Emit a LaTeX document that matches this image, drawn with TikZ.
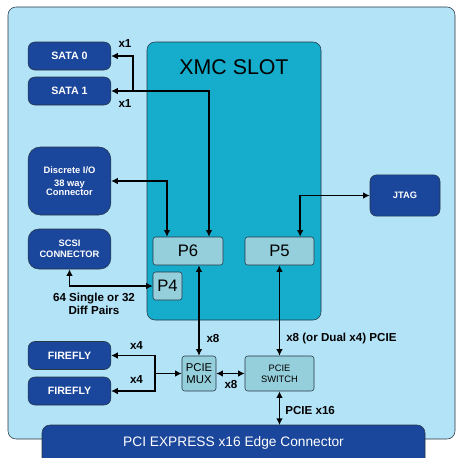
\documentclass[tikz,border=0pt]{standalone}
\usepackage{fontspec}
\setmainfont{Liberation Sans}
\usetikzlibrary{arrows.meta}
\usetikzlibrary{positioning}
\definecolor{bgblue}{RGB}{179,227,247}
\definecolor{dblue}{RGB}{26,70,155}
\definecolor{slotteal}{RGB}{22,172,203}
\definecolor{pinfill}{RGB}{148,207,219}
\definecolor{edge}{RGB}{40,55,70}
\tikzset{port/.style = {draw=edge, fill=dblue, text=white, rounded corners=5pt,
                        minimum width=62pt, minimum height=21pt, inner sep=1pt,
                        align=center, font=\bfseries\fontsize{8}{9}\selectfont},
         pin/.style = {draw=edge, fill=pinfill, rounded corners=2pt, inner sep=1pt,
                       align=center, minimum height=21pt},
         lbl/.style = {font=\bfseries\fontsize{8.7}{10}\selectfont, inner sep=0pt},
         link/.style = {line width=1.2pt, {Latex[length=5pt,width=5pt]}-{Latex[length=5pt,width=5pt]}},
         tolink/.style = {line width=1.2pt, -{Latex[length=5pt,width=5pt]}}}

\begin{document}
\begin{tikzpicture}[x=0.75pt, y=-0.75pt]
      \useasboundingbox (0, 0) rectangle (456, 458);
      \clip (0, 0) rectangle (456, 458);
      \fill [white] (0, 0) rectangle (456, 458);

      % board and slot
      \draw [edge, fill=bgblue, rounded corners=6pt] (8, 7) rectangle (455, 439);
      \draw [edge, fill=slotteal, rounded corners=6pt] (147, 42) rectangle (321, 320);
      \node [font=\fontsize{16}{19}\selectfont] (xmc) at (234, 67) {XMC SLOT};
      \draw [edge, fill=dblue, rounded corners=6pt] (42, 425) rectangle (425, 480);
      \node [text=white, font=\fontsize{10.3}{12}\selectfont] (pci) at (233.5, 443)
            {PCI EXPRESS x16 Edge Connector};
      \coordinate (pcitop) at (233.5, 425);

      % connectors on the left
      \node [port] (sata0) at (69.5, 56) {SATA 0};
      \node [port] (sata1) at (69.5, 91) {SATA 1};
      \node [port, minimum height=51pt, rounded corners=9pt,
             font=\bfseries\fontsize{7}{10}\selectfont] (disc) at (69.5, 181)
            {Discrete I/O\\38 way\\[-3pt]Connector};
      \node [port, minimum height=30pt, rounded corners=8pt,
             font=\bfseries\fontsize{7}{8.5}\selectfont] (scsi) at (69.5, 249)
            {SCSI\\CONNECTOR};
      \node [port] (ff1) at (69.5, 355.5) {FIREFLY};
      \node [port] (ff2) at (69.5, 391) {FIREFLY};
      \node [port, minimum width=52.5pt, minimum height=31pt,
             font=\bfseries\fontsize{7}{9}\selectfont] (jtag) at (405, 195.5) {JTAG};

      % slot pins and bridges
      \node [pin, minimum width=52.5pt, font=\fontsize{12.5}{14}\selectfont] (p6) at (188, 251) {P6};
      \node [pin, minimum width=21.75pt, font=\fontsize{12.5}{14}\selectfont] (p4) at (167.5, 286) {P4};
      \node [pin, minimum width=51.75pt, font=\fontsize{12.5}{14}\selectfont] (p5) at (279.5, 251) {P5};
      \node [pin, minimum width=25.5pt, minimum height=26.25pt,
             font=\fontsize{8.5}{8.5}\selectfont] (mux) at (199, 373.5) {PCIE\\MUX};
      \node [pin, minimum width=51.75pt, minimum height=26.25pt,
             font=\fontsize{7}{8}\selectfont] (sw) at (279.5, 373.5) {PCIE\\SWITCH};

      % links
      \draw [link] (sata1.east) -| ([xshift=15.75pt]p6.north);
      \coordinate (sbr) at (133, 91);
      \draw [tolink] (sbr) |- (sata0.east);
      \draw [link] (disc.east) -| ([xshift=-15.75pt]p6.north);
      \draw [link] (jtag.west) -| ([xshift=15.5pt]p5.north);
      \draw [link] (scsi.south) |- (p4.west);
      \draw [link] (mux.north) -- (mux.north |- p6.south);
      \draw [link] (sw.north) -- (p5.south);
      \draw [link] (mux.east) -- (sw.west);
      \draw [link] (sw.south) -- (sw.south |- pcitop);
      \coordinate (ffj) at (155, 373.5);
      \draw [tolink] (ffj) -- (mux.west);
      \draw [link] (ff1.east) -| (ffj) |- (ff2.east);

      % labels
      \node [lbl] (l1) at (125, 44) {x1};
      \node [lbl] (l2) at (125, 104) {x1};
      \node [lbl, align=center] (l3) at (94, 304) {64 Single or 32\\Diff Pairs};
      \node [lbl] (l4) at (213, 339) {x8};
      \node [lbl, anchor=west] (l5) at (286, 338) {x8 (or Dual x4) PCIE};
      \node [lbl] (l6) at (231, 385) {x8};
      \node [lbl] (l7) at (136.5, 346) {x4};
      \node [lbl] (l8) at (136.5, 380) {x4};
      \node [lbl, anchor=west] (l9) at (285, 411) {PCIE x16};
    \end{tikzpicture}
\end{document}
